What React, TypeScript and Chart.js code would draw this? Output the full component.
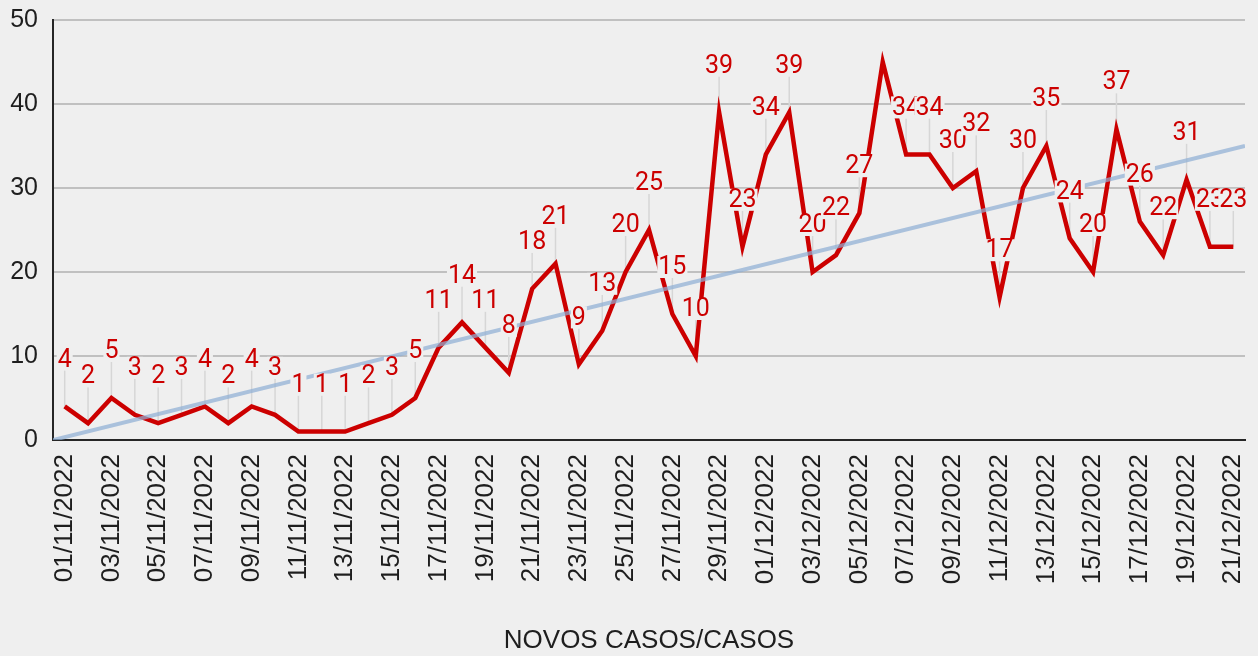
import React, { useEffect, useRef } from "react";
import { Chart, registerables } from "chart.js";

Chart.register(...registerables);

const dates: string[] = [
  "01/11/2022", "02/11/2022", "03/11/2022", "04/11/2022", "05/11/2022", "06/11/2022",
  "07/11/2022", "08/11/2022", "09/11/2022", "10/11/2022", "11/11/2022", "12/11/2022",
  "13/11/2022", "14/11/2022", "15/11/2022", "16/11/2022", "17/11/2022", "18/11/2022",
  "19/11/2022", "20/11/2022", "21/11/2022", "22/11/2022", "23/11/2022", "24/11/2022",
  "25/11/2022", "26/11/2022", "27/11/2022", "28/11/2022", "29/11/2022", "30/11/2022",
  "01/12/2022", "02/12/2022", "03/12/2022", "04/12/2022", "05/12/2022", "06/12/2022",
  "07/12/2022", "08/12/2022", "09/12/2022", "10/12/2022", "11/12/2022", "12/12/2022",
  "13/12/2022", "14/12/2022", "15/12/2022", "16/12/2022", "17/12/2022", "18/12/2022",
  "19/12/2022", "20/12/2022", "21/12/2022",
];

const newCases: number[] = [
  4, 2, 5, 3, 2, 3, 4, 2, 4, 3,
  1, 1, 1, 2, 3, 5, 11, 14, 11, 8,
  18, 21, 9, 13, 20, 25, 15, 10, 39, 23,
  34, 39, 20, 22, 27, 45, 34, 34, 30, 32,
  17, 30, 35, 24, 20, 37, 26, 22, 31, 23, 23,
];

// linear trendline end values (at the left and right edges of the plot)
const trendEnds: number[] = [0, 35];

const yTicks: number[] = [0, 10, 20, 30, 40, 50];
const axisTitle = "NOVOS CASOS/CASOS";

const RED = "#cc0000";
const BG = "#efefef";
const TEXT = "#1e1e1e";
const AXIS_FONT = "'Liberation Sans', Arial, sans-serif";

const bgPlugin = {
  id: "bgFill",
  beforeDraw(chart: any) {
    const { ctx, width, height } = chart;
    ctx.save();
    ctx.fillStyle = BG;
    ctx.fillRect(0, 0, width, height);
    ctx.restore();
  },
};

const LABEL_OFFSET = 47;

const labelPlugin = {
  id: "pointLabels",
  beforeDatasetsDraw(chart: any) {
    const idx = chart.data.datasets.findIndex((d: any) => d.label === "casos");
    const meta = chart.getDatasetMeta(idx);
    const { ctx, chartArea } = chart;
    ctx.save();
    ctx.strokeStyle = "#d6d6d6";
    ctx.lineWidth = 1.5;
    meta.data.forEach((pt: any) => {
      const ly = pt.y - LABEL_OFFSET;
      if (ly < chartArea.top) return;
      ctx.beginPath();
      ctx.moveTo(pt.x, ly + 11);
      ctx.lineTo(pt.x, pt.y);
      ctx.stroke();
    });
    ctx.restore();
  },
  afterDatasetsDraw(chart: any) {
    const idx = chart.data.datasets.findIndex((d: any) => d.label === "casos");
    const meta = chart.getDatasetMeta(idx);
    const values = chart.data.datasets[idx].data;
    const { ctx, chartArea } = chart;
    ctx.save();
    ctx.font = "25px Roboto";
    ctx.textAlign = "center";
    ctx.textBaseline = "middle";
    meta.data.forEach((pt: any, i: number) => {
      const ly = pt.y - LABEL_OFFSET;
      if (ly < chartArea.top) return;
      const txt = String(values[i].y);
      const w = ctx.measureText(txt).width;
      ctx.fillStyle = BG;
      ctx.fillRect(pt.x - w / 2 - 1, ly - 11, w + 2, 22);
      ctx.fillStyle = RED;
      ctx.fillText(txt, pt.x, ly + 1);
    });
    ctx.restore();
  },
};

export default function App() {
  const ref = useRef<HTMLCanvasElement | null>(null);

  useEffect(() => {
    document.body.style.margin = "0";
    document.body.style.background = BG;
    const n = dates.length;
    const chart = new Chart(ref.current as HTMLCanvasElement, {
      type: "line",
      data: {
        datasets: [
          {
            label: "trend",
            data: [
              { x: 0.5, y: trendEnds[0] },
              { x: n + 0.5, y: trendEnds[1] },
            ],
            borderColor: "rgba(143,175,212,0.72)",
            borderWidth: 4,
            pointRadius: 0,
            order: 0,
          },
          {
            label: "casos",
            data: newCases.map((v, i) => ({ x: i + 1, y: v })),
            borderColor: RED,
            borderWidth: 4.5,
            borderJoinStyle: "miter",
            pointRadius: 0,
            tension: 0,
            order: 1,
          },
        ],
      },
      options: {
        animation: false,
        responsive: false,
        maintainAspectRatio: false,
        layout: { padding: { top: 20, right: 13, left: 0, bottom: 0 } },
        plugins: {
          legend: { display: false },
          tooltip: { enabled: false },
        },
        scales: {
          x: {
            type: "linear",
            min: 0.5,
            max: n + 0.5,
            afterBuildTicks(scale: any) {
              const t: any[] = [];
              for (let i = 0; i < n; i += 2) t.push({ value: i + 1 });
              scale.ticks = t;
            },
            afterFit(scale: any) {
              scale.height = 216;
              scale.paddingLeft = 0;
              scale.paddingRight = 0;
              scale.paddingTop = 0;
              scale.paddingBottom = 0;
            },
            grid: { display: false, drawTicks: false },
            border: { display: true, color: "#262626", width: 2 },
            ticks: {
              autoSkip: false,
              maxRotation: 90,
              minRotation: 90,
              padding: 14,
              color: TEXT,
              font: { family: AXIS_FONT, size: 26 },
              callback: (v: any) => dates[Math.round(v) - 1] ?? "",
            },
            title: {
              display: true,
              text: axisTitle,
              color: TEXT,
              font: { family: AXIS_FONT, size: 26 },
              padding: { top: 0, bottom: 0 },
            },
          },
          y: {
            min: 0,
            max: 50,
            afterBuildTicks(scale: any) {
              scale.ticks = yTicks.map((v) => ({ value: v }));
            },
            afterFit(scale: any) {
              scale.width = 53;
              scale.paddingLeft = 0;
              scale.paddingRight = 0;
              scale.paddingTop = 0;
              scale.paddingBottom = 0;
            },
            grid: { color: "#c0c0c0", lineWidth: 2, drawTicks: false },
            border: { display: true, color: "#262626", width: 2 },
            ticks: {
              padding: 15,
              color: TEXT,
              font: { family: AXIS_FONT, size: 25 },
            },
          },
        },
      },
      plugins: [bgPlugin, labelPlugin],
    } as any);
    return () => chart.destroy();
  }, []);

  return (
    <div style={{ width: 1258, height: 656, background: BG }}>
      <canvas ref={ref} width={1258} height={656} style={{ display: "block" }} />
    </div>
  );
}
